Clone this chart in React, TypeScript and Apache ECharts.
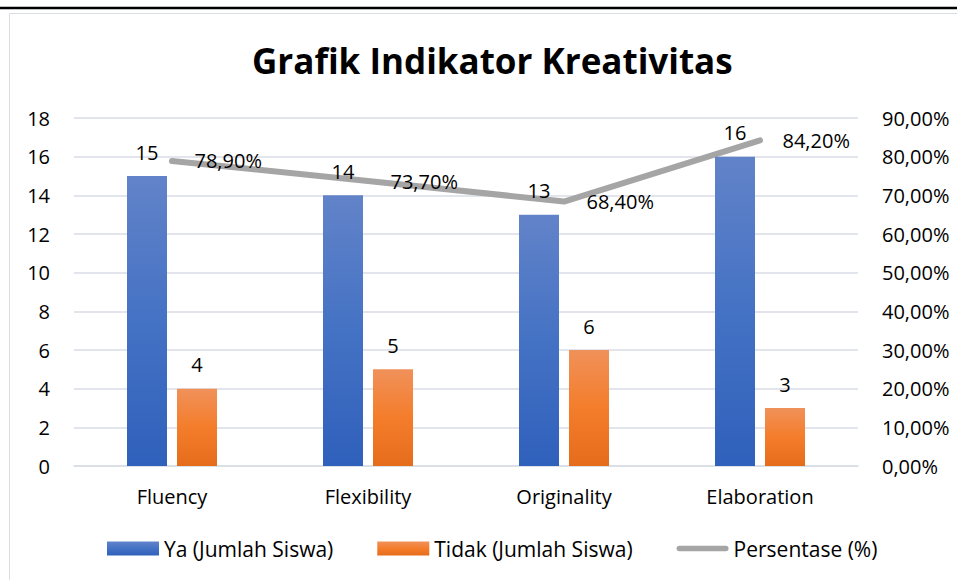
import React, { useEffect, useRef } from "react";
import * as echarts from "echarts";

const categories = ["Fluency", "Flexibility", "Originality", "Elaboration"];
const yaValues = [15, 14, 13, 16];
const tidakValues = [4, 5, 6, 3];
const persenValues = [78.9, 73.7, 68.4, 84.2];
const leftTicks = { min: 0, max: 18, interval: 2 };
const rightTicks = { min: 0, max: 90, interval: 10 };

const FONT = "'Open Sans', sans-serif";
const FS = 20;

export default function App() {
  const ref = useRef<HTMLDivElement>(null);
  useEffect(() => {
    if (!ref.current) return;
    const chart = echarts.init(ref.current, undefined, { renderer: "svg" });
    const fmtPct = (v: number) => v.toFixed(2).replace(".", ",") + "%";
    chart.setOption({
      animation: false,
      backgroundColor: "#ffffff",
      textStyle: { fontFamily: FONT },
      title: {
        text: "Grafik Indikator Kreativitas",
        left: 247,
        top: 38,
        textStyle: { fontFamily: FONT, fontSize: 35, fontWeight: "bold", color: "#000" },
      },
      graphic: [
        { type: "line", shape: { x1: 0, y1: 8, x2: 957, y2: 8 }, style: { stroke: "#000", lineWidth: 2.5 } },
        { type: "rect", shape: { x: 9.5, y: 13.5, width: 960, height: 600 }, style: { fill: "none", stroke: "#d9dde5", lineWidth: 1 } },
      ],
      legend: {
        bottom: 16,
        left: 102,
        itemWidth: 52,
        itemHeight: 14,
        itemGap: 44,
        symbolKeepAspect: true,
        textStyle: { fontFamily: FONT, fontSize: 21, color: "#000" },
        data: [
          { name: "Ya (Jumlah Siswa)", icon: "rect" },
          { name: "Tidak (Jumlah Siswa)", icon: "rect" },
          {
            name: "Persentase (%)",
            icon: "path://M3,0 L53,0 A3,3 0 0 1 53,6 L3,6 A3,3 0 0 1 3,0 Z",
          },
        ],
      },
      grid: { left: 74, right: 99, top: 118, bottom: 114 },
      xAxis: {
        type: "category",
        data: categories,
        axisTick: { show: false },
        axisLine: { lineStyle: { color: "#d9dde5", width: 1.5 } },
        axisLabel: { color: "#000", fontSize: FS, margin: 20, fontFamily: FONT },
      },
      yAxis: [
        {
          type: "value",
          ...leftTicks,
          axisLabel: { color: "#000", fontSize: FS, margin: 24, fontFamily: FONT },
          splitLine: { lineStyle: { color: "#d9dde5", width: 1.5 } },
          axisLine: { show: false },
          axisTick: { show: false },
        },
        {
          type: "value",
          ...rightTicks,
          position: "right",
          axisLabel: { color: "#000", fontSize: FS, margin: 24, fontFamily: FONT, formatter: (v: number) => fmtPct(v) },
          splitLine: { show: false },
          axisLine: { show: false },
          axisTick: { show: false },
        },
      ],
      series: [
        {
          name: "Ya (Jumlah Siswa)",
          type: "bar",
          z: 3,
          data: yaValues,
          barWidth: 40,
          barGap: "25%",
          itemStyle: {
            color: new echarts.graphic.LinearGradient(0, 0, 0, 1, [
              { offset: 0, color: "#6283c9" },
              { offset: 0.5, color: "#4472c4" },
              { offset: 1, color: "#2f60bb" },
            ]),
          },
          label: { show: true, position: "top", distance: 14, color: "#000", fontSize: FS, fontFamily: FONT },
        },
        {
          name: "Tidak (Jumlah Siswa)",
          type: "bar",
          z: 3,
          data: tidakValues,
          barWidth: 40,
          barGap: "25%",
          itemStyle: {
            color: new echarts.graphic.LinearGradient(0, 0, 0, 1, [
              { offset: 0, color: "#f0915a" },
              { offset: 0.5, color: "#f47d2b" },
              { offset: 1, color: "#e56c1a" },
            ]),
          },
          label: { show: true, position: "top", distance: 14, color: "#000", fontSize: FS, fontFamily: FONT },
        },
        {
          name: "Persentase (%)",
          type: "line",
          z: 2,
          yAxisIndex: 1,
          data: persenValues.map((v, i) =>
            i === 1 ? { value: v, label: { offset: [0, 7] } } : v
          ),
          symbol: "circle",
          symbolSize: 1,
          showSymbol: true,
          lineStyle: { color: "#a5a5a5", width: 6, cap: "round", join: "round" },
          itemStyle: { color: "#a5a5a5" },
          labelLayout: { hideOverlap: false },
          label: {
            show: true,
            position: "right",
            distance: 22,
            color: "#000",
            fontSize: FS,
            fontFamily: FONT,
            formatter: (p: any) => fmtPct(p.value),
          },
        },
      ],
    });
    return () => chart.dispose();
  }, []);
  return (
    <div
      ref={ref}
      style={{ position: "absolute", left: 0, top: 0, width: 957, height: 580, background: "#fff" }}
    />
  );
}
